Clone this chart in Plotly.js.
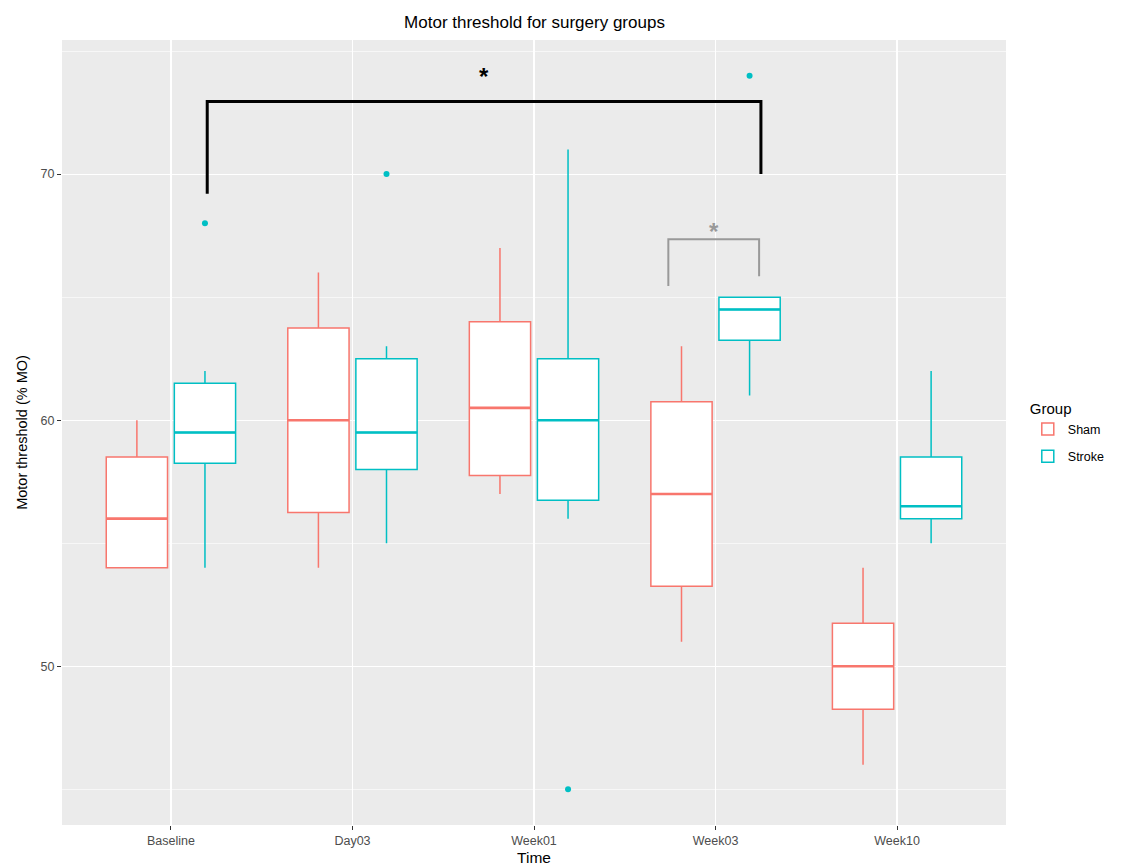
<!DOCTYPE html>
<html>
<head>
<meta charset="utf-8">
<script src="https://cdn.plot.ly/plotly-3.0.1.min.js"></script>
<style>html,body{margin:0;padding:0;background:#fff;}#chart{width:1121px;height:866px;}</style>
</head>
<body>
<div id="chart"></div>
<script>
// ---- data ----
const categories = ['Baseline', 'Day03', 'Week01', 'Week03', 'Week10'];
const groups = ['Sham', 'Stroke'];

const shamLower  = [54, 54, 57, 51, 46];
const shamQ1     = [54, 56.25, 57.75, 53.25, 48.25];
const shamMedian = [56, 60, 60.5, 57, 50];
const shamQ3     = [58.5, 63.75, 64, 60.75, 51.75];
const shamUpper  = [60, 66, 67, 63, 54];

const strokeLower  = [54, 55, 56, 61, 55];
const strokeQ1     = [58.25, 58, 56.75, 63.25, 56];
const strokeMedian = [59.5, 59.5, 60, 64.5, 56.5];
const strokeQ3     = [61.5, 62.5, 62.5, 65, 58.5];
const strokeUpper  = [62, 63, 71, 65, 62];

const strokeOutlierCat = ['Baseline', 'Day03', 'Week01', 'Week03'];
const strokeOutlierVal = [68, 70, 45, 74];

// significance brackets (x in category index units, y in data units)
const sig1X = [0.2, 0.2, 3.25, 3.25];
const sig1Y = [69.2, 72.95, 72.95, 70];
const sig1Label = '*';
const sig2X = [2.74, 2.74, 3.24, 3.24];
const sig2Y = [65.45, 67.35, 67.35, 65.85];
const sig2Label = '*';

// ---- style ----
const colSham = '#F8766D';
const colStroke = '#00BFC4';
const dodge = 0.1875;
const boxW = 0.3375;

const idx = c => categories.indexOf(c);
const xs = off => categories.map((c, i) => i + off);

function boxTrace(name, color, off, lo, q1, med, q3, hi) {
  return {
    type: 'box', name: name, legendgroup: name, x: xs(off),
    lowerfence: lo, q1: q1, median: med, q3: q3, upperfence: hi,
    width: boxW, whiskerwidth: 0, boxpoints: false,
    fillcolor: '#FFFFFF', line: {color: color, width: 1.5},
    hoverinfo: 'skip'
  };
}
function medianTrace(color, off, med) {
  const x = [], y = [];
  med.forEach((m, i) => { x.push(i + off - boxW / 2, i + off + boxW / 2, null); y.push(m, m, null); });
  return {type: 'scatter', mode: 'lines', x: x, y: y, line: {color: color, width: 2.6}, showlegend: false, hoverinfo: 'skip'};
}

const traces = [
  boxTrace(groups[0], colSham, -dodge, shamLower, shamQ1, shamMedian, shamQ3, shamUpper),
  boxTrace(groups[1], colStroke, dodge, strokeLower, strokeQ1, strokeMedian, strokeQ3, strokeUpper),
  medianTrace(colSham, -dodge, shamMedian),
  medianTrace(colStroke, dodge, strokeMedian),
  {type: 'scatter', mode: 'markers', x: strokeOutlierCat.map(c => idx(c) + dodge), y: strokeOutlierVal,
   marker: {color: colStroke, size: 6}, showlegend: false, hoverinfo: 'skip'},
  {type: 'scatter', mode: 'lines', x: sig1X, y: sig1Y, line: {color: '#000000', width: 3}, showlegend: false, hoverinfo: 'skip'},
  {type: 'scatter', mode: 'lines', x: sig2X, y: sig2Y, line: {color: '#999999', width: 2}, showlegend: false, hoverinfo: 'skip'}
];

const mid = a => (a[0] + a[a.length - 1]) / 2;

const layout = {
  width: 1121, height: 866,
  margin: {l: 62, r: 114, t: 40, b: 41},
  paper_bgcolor: '#FFFFFF', plot_bgcolor: '#EBEBEB',
  font: {family: 'Liberation Sans, Arial, sans-serif', color: '#000000'},
  title: {text: 'Motor threshold for surgery groups', x: 0.4768, xanchor: 'center', y: 0.974, yanchor: 'middle',
          font: {size: 17, color: '#000000'}},
  showlegend: true,
  hovermode: false,
  legend: {x: 1.022, xanchor: 'left', y: 0.548, yanchor: 'top', bgcolor: 'rgba(0,0,0,0)',
           title: {text: 'Group', font: {size: 15, color: '#000000'}},
           font: {size: 12.5, color: '#000000'}, tracegroupgap: 8},
  xaxis: {
    range: [-0.6, 4.6], tickmode: 'array', tickvals: categories.map((c, i) => i), ticktext: categories,
    showgrid: true, gridcolor: '#FFFFFF', gridwidth: 1.2, zeroline: false, showline: false,
    ticks: 'outside', ticklen: 4, tickcolor: '#333333', tickwidth: 1,
    tickfont: {size: 12.5, color: '#4D4D4D'},
    title: {text: 'Time', font: {size: 15.5, color: '#000000'}, standoff: 6}
  },
  yaxis: {
    range: [43.55, 75.45], tickvals: [50, 60, 70], ticktext: ['50', '60', '70'],
    showgrid: true, gridcolor: '#FFFFFF', gridwidth: 1.2, zeroline: false, showline: false,
    ticks: 'outside', ticklen: 4, tickcolor: '#333333', tickwidth: 1,
    tickfont: {size: 12.5, color: '#4D4D4D'},
    minor: {tickvals: [45, 55, 65, 75], showgrid: true, gridcolor: '#FFFFFF', gridwidth: 0.6, ticks: ''},
    title: {text: 'Motor threshold (% MO)', font: {size: 14.5, color: '#000000'}, standoff: 9}
  },
  annotations: [
    {x: mid(sig1X), y: Math.max(...sig1Y), xref: 'x', yref: 'y', text: '<b>' + sig1Label + '</b>', showarrow: false,
     yanchor: 'bottom', yshift: 10, font: {size: 24, color: '#000000'}},
    {x: mid(sig2X), y: Math.max(...sig2Y), xref: 'x', yref: 'y', text: '<b>' + sig2Label + '</b>', showarrow: false,
     yanchor: 'bottom', yshift: -8, font: {size: 24, color: '#999999'}}
  ]
};

Plotly.newPlot('chart', traces, layout, {displayModeBar: false, staticPlot: true});
</script>
</body>
</html>
